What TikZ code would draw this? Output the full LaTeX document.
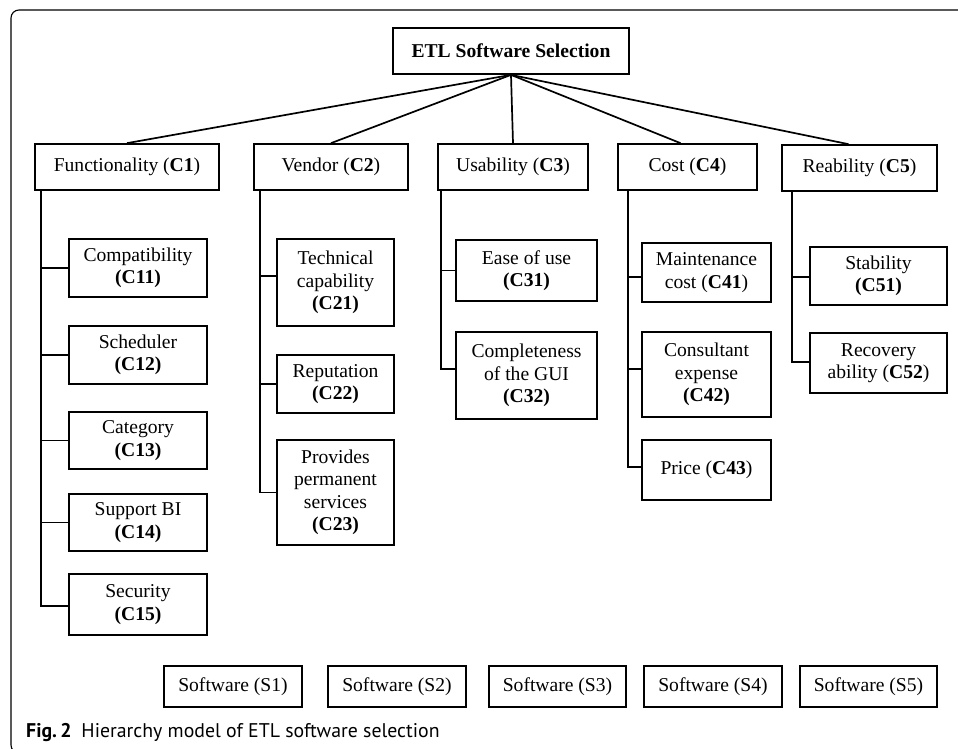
\documentclass[tikz,border=0pt]{standalone}
\usepackage{fontspec}
\setmainfont{Liberation Serif}
\newfontfamily\capfont{PT Sans}
\tikzset{
  bx/.style={draw, line width=1.7pt, align=center, inner sep=0pt,
             font=\fontsize{19.6}{22.5}\selectfont},
  lnk/.style={line width=1.7pt},
  frm/.style={line width=1.1pt, draw=black, rounded corners=8pt},
}
\begin{document}
\begin{tikzpicture}[x=1pt,y=-1pt]
\useasboundingbox (0,0) rectangle (958,748);
\begin{scope}
  \clip (0,0) rectangle (958,748);
  \draw[frm] (975,753) -- (11,753) -- (11,10) -- (975,10);
\end{scope}

% root
\node[bx, minimum width=236pt, minimum height=46pt] (top) at (511,51) {\textbf{ETL Software Selection}};

% criteria
\node[bx, minimum width=184pt, minimum height=46pt] (c1) at (127,167) {Functionality (\textbf{C1})};
\node[bx, minimum width=154pt, minimum height=46pt] (c2) at (331,167) {Vendor (\textbf{C2})};
\node[bx, minimum width=150pt, minimum height=46pt] (c3) at (513,167) {Usability (\textbf{C3})};
\node[bx, minimum width=139pt, minimum height=46pt] (c4) at (687.5,167) {Cost (\textbf{C4})};
\node[bx, minimum width=155pt, minimum height=46pt] (c5) at (859.5,168) {Reability (\textbf{C5})};

\draw[lnk] (top.south) -- (c1.north);
\draw[lnk] (top.south) -- (c2.north);
\draw[lnk] (top.south) -- (c3.north);
\draw[lnk] (top.south) -- ([xshift=-7pt]c4.north);
\draw[lnk] (top.south) -- ([xshift=-11pt]c5.north);

% C1 sub-criteria
\node[bx, minimum width=138pt, minimum height=58pt] (c11) at (138,268) {Compatibility\\\textbf{(C11)}};
\node[bx, minimum width=138pt, minimum height=58pt] (c12) at (138,355) {Scheduler\\\textbf{(C12)}};
\node[bx, minimum width=138pt, minimum height=57pt] (c13) at (138,440.5) {Category\\\textbf{(C13)}};
\node[bx, minimum width=138pt, minimum height=57pt] (c14) at (138,522.5) {Support BI\\\textbf{(C14)}};
\node[bx, minimum width=138pt, minimum height=61pt] (c15) at (138,604.5) {Security\\\textbf{(C15)}};

\coordinate (s1) at ([xshift=7pt]c1.south west);
\draw[lnk] (s1) |- ([yshift=-1.5pt]c15.west);
\draw[lnk] (c11.west) -- (c11.west -| s1);
\draw[lnk] (c12.west) -- (c12.west -| s1);
\draw[lnk] (c13.west) -- (c13.west -| s1);
\draw[lnk] (c14.west) -- (c14.west -| s1);

% C2 sub-criteria
\node[bx, minimum width=117pt, minimum height=87pt] (c21) at (335.5,282.5) {Technical\\capability\\\textbf{(C21)}};
\node[bx, minimum width=117pt, minimum height=58pt] (c22) at (335.5,384) {Reputation\\\textbf{(C22)}};
\node[bx, minimum width=117pt, minimum height=105pt] (c23) at (335.5,492.5) {Provides\\permanent\\services\\\textbf{(C23)}};

\coordinate (s2) at ([xshift=7pt]c2.south west);
\draw[lnk] (s2) |- (c23.west);
\draw[lnk] ([yshift=6.5pt]c21.west) -- ([yshift=6.5pt]c21.west -| s2);
\draw[lnk] (c22.west) -- (c22.west -| s2);

% C3 sub-criteria
\node[bx, minimum width=141pt, minimum height=61pt] (c31) at (526.5,270.5) {Ease of use\\\textbf{(C31)}};
\node[bx, minimum width=141pt, minimum height=87pt] (c32) at (526.5,375.5) {Completeness\\of the GUI\\\textbf{(C32)}};

\coordinate (s3) at ([xshift=4pt]c3.south west);
\draw[lnk] (s3) |- ([yshift=6.5pt]c32.west);
\draw[lnk] (c31.west) -- (c31.west -| s3);

% C4 sub-criteria
\node[bx, minimum width=129pt, minimum height=59pt] (c41) at (706.5,272.5) {Maintenance\\cost (\textbf{C41})};
\node[bx, minimum width=129pt, minimum height=85pt] (c42) at (706.5,374.5) {Consultant\\expense\\\textbf{(C42)}};
\node[bx, minimum width=129pt, minimum height=60pt] (c43) at (706.5,470) {Price (\textbf{C43})};

\coordinate (s4) at ([xshift=11pt]c4.south west);
\draw[lnk] (s4) |- ([yshift=3pt]c43.west);
\draw[lnk] ([yshift=-4.5pt]c41.west) -- ([yshift=-4.5pt]c41.west -| s4);
\draw[lnk] ([yshift=5.5pt]c42.west) -- ([yshift=5.5pt]c42.west -| s4);

% C5 sub-criteria
\node[bx, minimum width=137pt, minimum height=58pt] (c51) at (878.5,276) {Stability\\\textbf{(C51)}};
\node[bx, minimum width=137pt, minimum height=60pt] (c52) at (878.5,363) {Recovery\\ability (\textbf{C52})};

\coordinate (s5) at ([xshift=11pt]c5.south west);
\draw[lnk] (s5) |- ([yshift=1pt]c52.west);
\draw[lnk] ([yshift=-1pt]c51.west) -- ([yshift=-1pt]c51.west -| s5);

% alternatives
\node[bx, minimum width=138pt, minimum height=41pt] (s1b) at (233,686.5) {Software (S1)};
\node[bx, minimum width=138pt, minimum height=41pt] (s2b) at (397,686.5) {Software (S2)};
\node[bx, minimum width=137pt, minimum height=41pt] (s3b) at (557.5,686.5) {Software (S3)};
\node[bx, minimum width=138pt, minimum height=41pt] (s4b) at (713,686.5) {Software (S4)};
\node[bx, minimum width=137pt, minimum height=41pt] (s5b) at (868.5,686.5) {Software (S5)};

% caption
\node[anchor=base west, inner sep=0pt, font=\capfont\fontsize{19.8}{21}\selectfont] (cap) at (26,737)
  {\textbf{Fig.\,2}\hspace{0.5em}Hierarchy model of ETL software selection};
\end{tikzpicture}
\end{document}
